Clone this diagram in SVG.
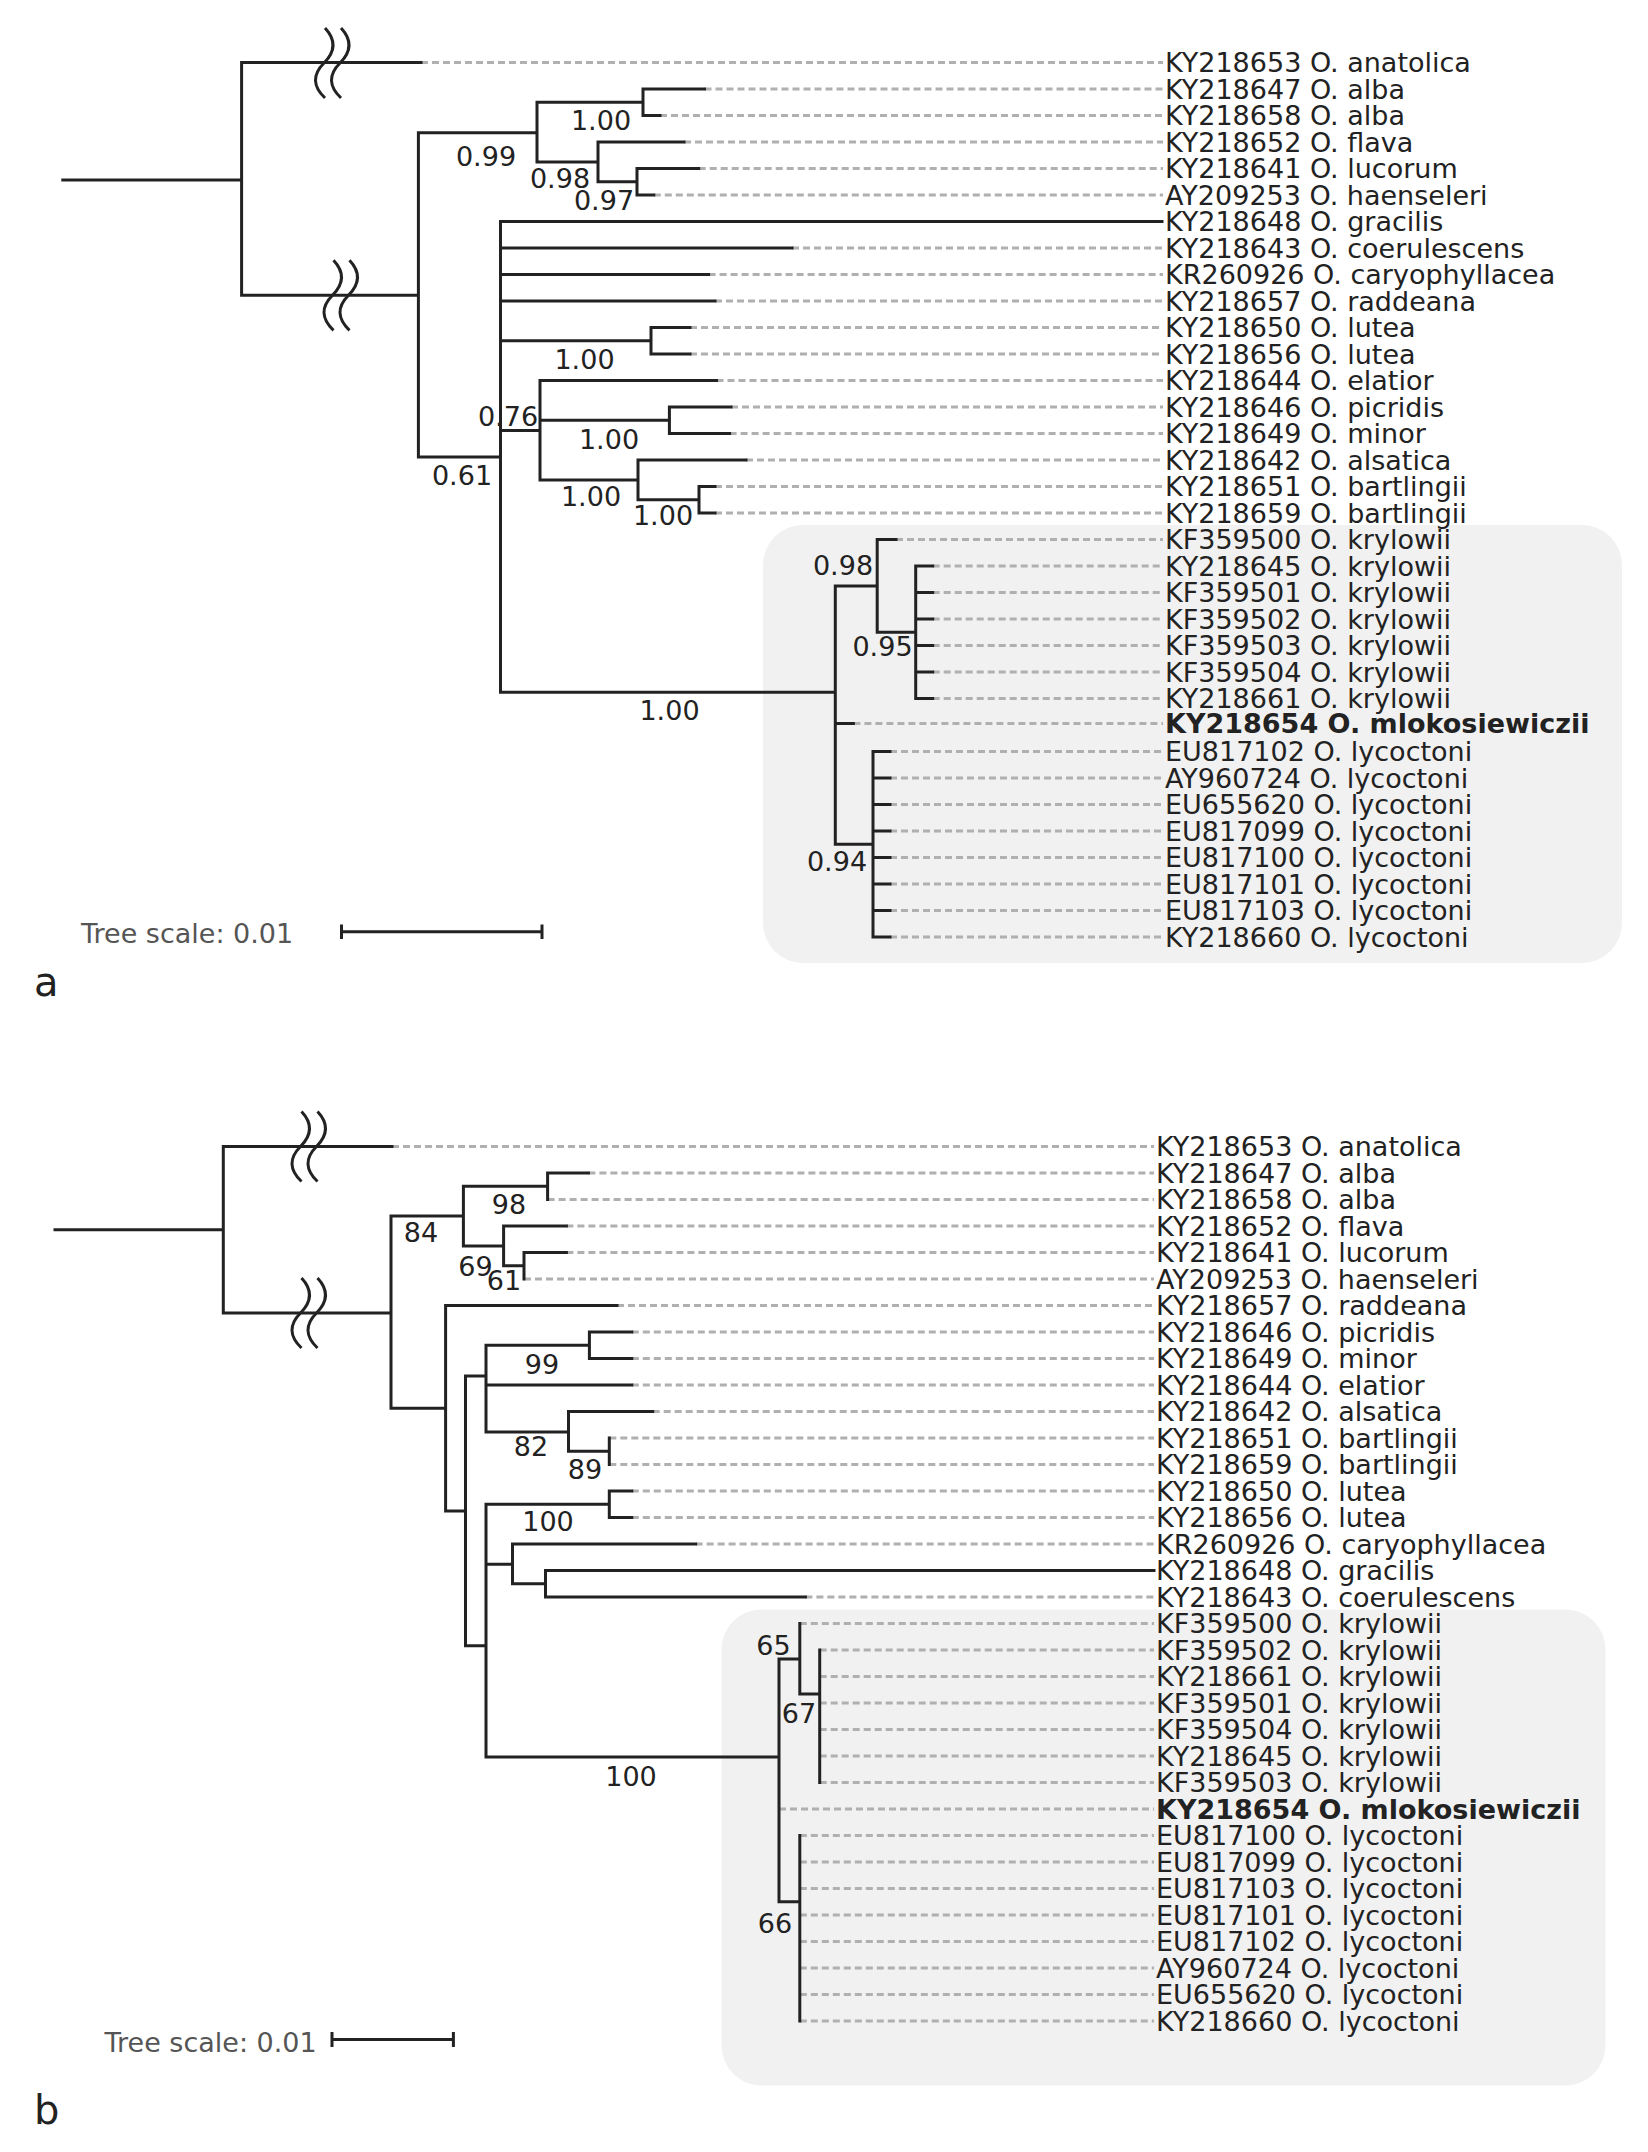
<svg xmlns="http://www.w3.org/2000/svg" width="1648" height="2152" viewBox="0 0 1648 2152">
<style>
text{font-family:"DejaVu Sans","Liberation Sans",sans-serif;fill:#222}
.lf{font-size:27px}
.bd{font-weight:bold}
.bs{font-size:27px;text-anchor:middle}
.sc{font-size:27px;fill:#555}
.pl{font-size:40px}
.br{fill:none;stroke:#222;stroke-width:3;stroke-linecap:square}
.ds{fill:none;stroke:#b0b0b0;stroke-width:3;stroke-dasharray:7 4}
.bk{fill:none;stroke:#222;stroke-width:3}
.box{fill:#f1f1f1}
</style>
<defs>
<path id="wave" d="M1,-35 Q17.5,-17.5 0,0 Q-17.5,17.5 1,35"/>
</defs>

<!-- ===== Panel a ===== -->
<g id="panel-a">
<rect id="clade-box-a" class="box" x="763" y="525" width="859" height="438" rx="40"/>

<g id="support-a">
<text class="bs" x="486" y="166">0.99</text>
<text class="bs" x="601" y="129.5">1.00</text>
<text class="bs" x="560" y="188">0.98</text>
<text class="bs" x="604" y="209.5">0.97</text>
<text class="bs" x="584.5" y="369">1.00</text>
<text class="bs" x="508" y="426">0.76</text>
<text class="bs" x="609" y="449">1.00</text>
<text class="bs" x="591" y="506">1.00</text>
<text class="bs" x="663" y="524.5">1.00</text>
<text class="bs" x="462" y="484.5">0.61</text>
<text class="bs" x="669.5" y="719.5">1.00</text>
<text class="bs" x="843" y="574.5">0.98</text>
<text class="bs" x="882.5" y="656">0.95</text>
<text class="bs" x="837" y="871">0.94</text>
</g>

<g id="connectors-a">
<path class="ds" d="M421,62.5H1163 M704.5,89H1163 M660,115.5H1163 M684,142H1163 M698.7,168.5H1163 M653.8,195H1163 M792,248H1163 M708.6,274.5H1163 M715,301H1163 M690,327.5H1163 M690,354H1163 M716.5,380.5H1163 M731,407H1163 M729.6,433.5H1163 M746,460H1163 M715,486.5H1163 M715,513H1163 M896,539.5H1163 M932.7,566H1163 M932.7,592.5H1163 M932.7,619H1163 M932.7,645.5H1163 M932.7,672H1163 M932.7,698.5H1163 M853.4,723.5H1163 M890,751.5H1163 M890,778H1163 M890,804.5H1163 M890,831H1163 M890,857.5H1163 M890,884H1163 M890,910.5H1163 M890,937H1163"/>
<path class="br" d="M62.8,180H241.6 M241.6,62.5V295.3 M241.6,62.5H421 M241.6,295.3H418.4
M418.4,132.7V457 M418.4,132.7H537 M418.4,457H500.5
M537,102.25V162 M537,102.25H643 M643,89V115.5 M643,89H704.5 M643,115.5H660
M537,162H598 M598,142V181.75 M598,142H684 M598,181.75H637 M637,168.5V195 M637,168.5H698.7 M637,195H653.8
M500.5,221.5V692.3 M500.5,221.5H1162 M500.5,248H792 M500.5,274.5H708.6 M500.5,301H715
M500.5,340.75H651 M651,327.5V354 M651,327.5H690 M651,354H690
M500.5,430.5H540 M540,380.5V480 M540,380.5H716.5 M540,420.25H669.4 M669.4,407V433.5 M669.4,407H731 M669.4,433.5H729.6
M540,480H638 M638,460V499.75 M638,460H746 M638,499.75H699 M699,486.5V513 M699,486.5H715 M699,513H715
M500.5,692.3H835.3 M835.3,585.9V844.25 M835.3,585.9H877.2 M877.2,539.5V632.25 M877.2,539.5H896 M877.2,632.25H915.7
M915.7,566V698.5 M915.7,566H932.7 M915.7,592.5H932.7 M915.7,619H932.7 M915.7,645.5H932.7 M915.7,672H932.7 M915.7,698.5H932.7
M835.3,723.5H853.4 M835.3,844.25H873 M873,751.5V937
M873,751.5H890 M873,778H890 M873,804.5H890 M873,831H890 M873,857.5H890 M873,884H890 M873,910.5H890 M873,937H890"/>
<g id="breaks-a">
<use href="#wave" class="bk" transform="translate(324,63)"/>
<use href="#wave" class="bk" transform="translate(340,63)"/>
<use href="#wave" class="bk" transform="translate(332.5,295.3)"/>
<use href="#wave" class="bk" transform="translate(348.5,295.3)"/>
</g>
</g>

<g id="leaves-a" class="lf">
<g id="a-KY218653"><text x="1165" y="72">KY218653 O. anatolica</text></g>
<g id="a-KY218647"><text x="1165" y="98.5">KY218647 O. alba</text></g>
<g id="a-KY218658"><text x="1165" y="125">KY218658 O. alba</text></g>
<g id="a-KY218652"><text x="1165" y="151.5">KY218652 O. flava</text></g>
<g id="a-KY218641"><text x="1165" y="178">KY218641 O. lucorum</text></g>
<g id="a-AY209253"><text x="1165" y="204.5">AY209253 O. haenseleri</text></g>
<g id="a-KY218648"><text x="1165" y="231">KY218648 O. gracilis</text></g>
<g id="a-KY218643"><text x="1165" y="257.5">KY218643 O. coerulescens</text></g>
<g id="a-KR260926"><text x="1165" y="284">KR260926 O. caryophyllacea</text></g>
<g id="a-KY218657"><text x="1165" y="310.5">KY218657 O. raddeana</text></g>
<g id="a-KY218650"><text x="1165" y="337">KY218650 O. lutea</text></g>
<g id="a-KY218656"><text x="1165" y="363.5">KY218656 O. lutea</text></g>
<g id="a-KY218644"><text x="1165" y="390">KY218644 O. elatior</text></g>
<g id="a-KY218646"><text x="1165" y="416.5">KY218646 O. picridis</text></g>
<g id="a-KY218649"><text x="1165" y="443">KY218649 O. minor</text></g>
<g id="a-KY218642"><text x="1165" y="469.5">KY218642 O. alsatica</text></g>
<g id="a-KY218651"><text x="1165" y="496">KY218651 O. bartlingii</text></g>
<g id="a-KY218659"><text x="1165" y="522.5">KY218659 O. bartlingii</text></g>
<g id="a-KF359500"><text x="1165" y="549">KF359500 O. krylowii</text></g>
<g id="a-KY218645"><text x="1165" y="575.5">KY218645 O. krylowii</text></g>
<g id="a-KF359501"><text x="1165" y="602">KF359501 O. krylowii</text></g>
<g id="a-KF359502"><text x="1165" y="628.5">KF359502 O. krylowii</text></g>
<g id="a-KF359503"><text x="1165" y="655">KF359503 O. krylowii</text></g>
<g id="a-KF359504"><text x="1165" y="681.5">KF359504 O. krylowii</text></g>
<g id="a-KY218661"><text x="1165" y="708">KY218661 O. krylowii</text></g>
<g id="a-KY218654"><text class="bd" x="1165" y="733">KY218654 O. mlokosiewiczii</text></g>
<g id="a-EU817102"><text x="1165" y="761">EU817102 O. lycoctoni</text></g>
<g id="a-AY960724"><text x="1165" y="787.5">AY960724 O. lycoctoni</text></g>
<g id="a-EU655620"><text x="1165" y="814">EU655620 O. lycoctoni</text></g>
<g id="a-EU817099"><text x="1165" y="840.5">EU817099 O. lycoctoni</text></g>
<g id="a-EU817100"><text x="1165" y="867">EU817100 O. lycoctoni</text></g>
<g id="a-EU817101"><text x="1165" y="893.5">EU817101 O. lycoctoni</text></g>
<g id="a-EU817103"><text x="1165" y="920">EU817103 O. lycoctoni</text></g>
<g id="a-KY218660"><text x="1165" y="946.5">KY218660 O. lycoctoni</text></g>
</g>

<g id="scale-a">
<text class="sc" x="81" y="942.5">Tree scale: 0.01</text>
<path class="br" style="stroke-linecap:butt" d="M341.5,931.7H542 M341.5,924.5V939 M542,924.5V939"/>
</g>
<text id="label-a" class="pl" x="34" y="996">a</text>
</g>

<!-- ===== Panel b ===== -->
<g id="panel-b">
<rect id="clade-box-b" class="box" x="721.5" y="1609.5" width="884" height="476" rx="40"/>

<g id="support-b">
<text class="bs" x="421" y="1242">84</text>
<text class="bs" x="509" y="1213.5">98</text>
<text class="bs" x="475.5" y="1275.5">69</text>
<text class="bs" x="504" y="1290">61</text>
<text class="bs" x="542" y="1373.5">99</text>
<text class="bs" x="531" y="1456">82</text>
<text class="bs" x="585" y="1479">89</text>
<text class="bs" x="548" y="1531">100</text>
<text class="bs" x="631" y="1785.5">100</text>
<text class="bs" x="773.5" y="1654.5">65</text>
<text class="bs" x="799" y="1723">67</text>
<text class="bs" x="775" y="1933">66</text>
</g>

<g id="connectors-b">
<path class="ds" d="M392,1146.5H1154 M588.4,1173H1154 M547.6,1199.5H1154 M566.4,1226H1154 M566.4,1252.5H1154 M524,1279H1154 M617,1305.5H1154 M631.8,1332H1154 M631.8,1358.5H1154 M631.8,1385H1154 M652.7,1411.5H1154 M609.3,1438H1154 M609.3,1464.5H1154 M631.8,1491H1154 M631.8,1517.5H1154 M695.6,1544H1154 M805.4,1597H1154 M799.8,1623.5H1154 M819.7,1650H1154 M819.7,1676.5H1154 M819.7,1703H1154 M819.7,1729.5H1154 M819.7,1756H1154 M819.7,1782.5H1154 M779,1809H1154 M799.8,1835.5H1154 M799.8,1862H1154 M799.8,1888.5H1154 M799.8,1915H1154 M799.8,1941.5H1154 M799.8,1968H1154 M799.8,1994.5H1154 M799.8,2021H1154"/>
<path class="br" d="M55,1229.75H223.3 M223.3,1146.5V1313 M223.3,1146.5H392 M223.3,1313H391
M391,1216V1408.25 M391,1216H463.4 M463.4,1186.25V1246 M463.4,1186.25H547.6 M547.6,1173V1199.5 M547.6,1173H588.4
M463.4,1246H503.6 M503.6,1226V1265.75 M503.6,1226H566.4 M503.6,1265.75H524 M524,1252.5V1279 M524,1252.5H566.4
M391,1408.25H445.6 M445.6,1305.5V1511 M445.6,1305.5H617 M445.6,1511H465.5 M465.5,1376V1645.8
M465.5,1376H486 M486,1345.25V1432 M486,1345.25H589.4 M589.4,1332V1358.5 M589.4,1332H631.8 M589.4,1358.5H631.8
M486,1385H631.8 M486,1432H568.5 M568.5,1411.5V1451.25 M568.5,1411.5H652.7 M568.5,1451.25H609.3 M609.3,1438V1464.5
M465.5,1645.8H486 M486,1504.25V1757 M486,1504.25H609.3 M609.3,1491V1517.5 M609.3,1491H631.8 M609.3,1517.5H631.8
M486,1564.25H512.5 M512.5,1544V1583.75 M512.5,1544H695.6 M512.5,1583.75H545.5 M545.5,1570.5V1597 M545.5,1570.5H1154 M545.5,1597H805.4
M486,1757H779 M779,1659V1901.7 M779,1659H799.8 M799.8,1623.5V1694 M799.8,1694H819.7 M819.7,1650V1782.5
M779,1901.7H799.8 M799.8,1835.5V2021"/>
<g id="breaks-b">
<use href="#wave" class="bk" transform="translate(300.5,1146.5)"/>
<use href="#wave" class="bk" transform="translate(316.5,1146.5)"/>
<use href="#wave" class="bk" transform="translate(300.5,1313)"/>
<use href="#wave" class="bk" transform="translate(316.5,1313)"/>
</g>
</g>

<g id="leaves-b" class="lf">
<g id="b-KY218653"><text x="1156" y="1156">KY218653 O. anatolica</text></g>
<g id="b-KY218647"><text x="1156" y="1182.5">KY218647 O. alba</text></g>
<g id="b-KY218658"><text x="1156" y="1209">KY218658 O. alba</text></g>
<g id="b-KY218652"><text x="1156" y="1235.5">KY218652 O. flava</text></g>
<g id="b-KY218641"><text x="1156" y="1262">KY218641 O. lucorum</text></g>
<g id="b-AY209253"><text x="1156" y="1288.5">AY209253 O. haenseleri</text></g>
<g id="b-KY218657"><text x="1156" y="1315">KY218657 O. raddeana</text></g>
<g id="b-KY218646"><text x="1156" y="1341.5">KY218646 O. picridis</text></g>
<g id="b-KY218649"><text x="1156" y="1368">KY218649 O. minor</text></g>
<g id="b-KY218644"><text x="1156" y="1394.5">KY218644 O. elatior</text></g>
<g id="b-KY218642"><text x="1156" y="1421">KY218642 O. alsatica</text></g>
<g id="b-KY218651"><text x="1156" y="1447.5">KY218651 O. bartlingii</text></g>
<g id="b-KY218659"><text x="1156" y="1474">KY218659 O. bartlingii</text></g>
<g id="b-KY218650"><text x="1156" y="1500.5">KY218650 O. lutea</text></g>
<g id="b-KY218656"><text x="1156" y="1527">KY218656 O. lutea</text></g>
<g id="b-KR260926"><text x="1156" y="1553.5">KR260926 O. caryophyllacea</text></g>
<g id="b-KY218648"><text x="1156" y="1580">KY218648 O. gracilis</text></g>
<g id="b-KY218643"><text x="1156" y="1606.5">KY218643 O. coerulescens</text></g>
<g id="b-KF359500"><text x="1156" y="1633">KF359500 O. krylowii</text></g>
<g id="b-KF359502"><text x="1156" y="1659.5">KF359502 O. krylowii</text></g>
<g id="b-KY218661"><text x="1156" y="1686">KY218661 O. krylowii</text></g>
<g id="b-KF359501"><text x="1156" y="1712.5">KF359501 O. krylowii</text></g>
<g id="b-KF359504"><text x="1156" y="1739">KF359504 O. krylowii</text></g>
<g id="b-KY218645"><text x="1156" y="1765.5">KY218645 O. krylowii</text></g>
<g id="b-KF359503"><text x="1156" y="1792">KF359503 O. krylowii</text></g>
<g id="b-KY218654"><text class="bd" x="1156" y="1818.5">KY218654 O. mlokosiewiczii</text></g>
<g id="b-EU817100"><text x="1156" y="1845">EU817100 O. lycoctoni</text></g>
<g id="b-EU817099"><text x="1156" y="1871.5">EU817099 O. lycoctoni</text></g>
<g id="b-EU817103"><text x="1156" y="1898">EU817103 O. lycoctoni</text></g>
<g id="b-EU817101"><text x="1156" y="1924.5">EU817101 O. lycoctoni</text></g>
<g id="b-EU817102"><text x="1156" y="1951">EU817102 O. lycoctoni</text></g>
<g id="b-AY960724"><text x="1156" y="1977.5">AY960724 O. lycoctoni</text></g>
<g id="b-EU655620"><text x="1156" y="2004">EU655620 O. lycoctoni</text></g>
<g id="b-KY218660"><text x="1156" y="2030.5">KY218660 O. lycoctoni</text></g>
</g>

<g id="scale-b">
<text class="sc" x="104.5" y="2052">Tree scale: 0.01</text>
<path class="br" style="stroke-linecap:butt" d="M332,2039.4H453.4 M332,2032V2047 M453.4,2032V2047"/>
</g>
<text id="label-b" class="pl" x="34" y="2124">b</text>
</g>
</svg>
